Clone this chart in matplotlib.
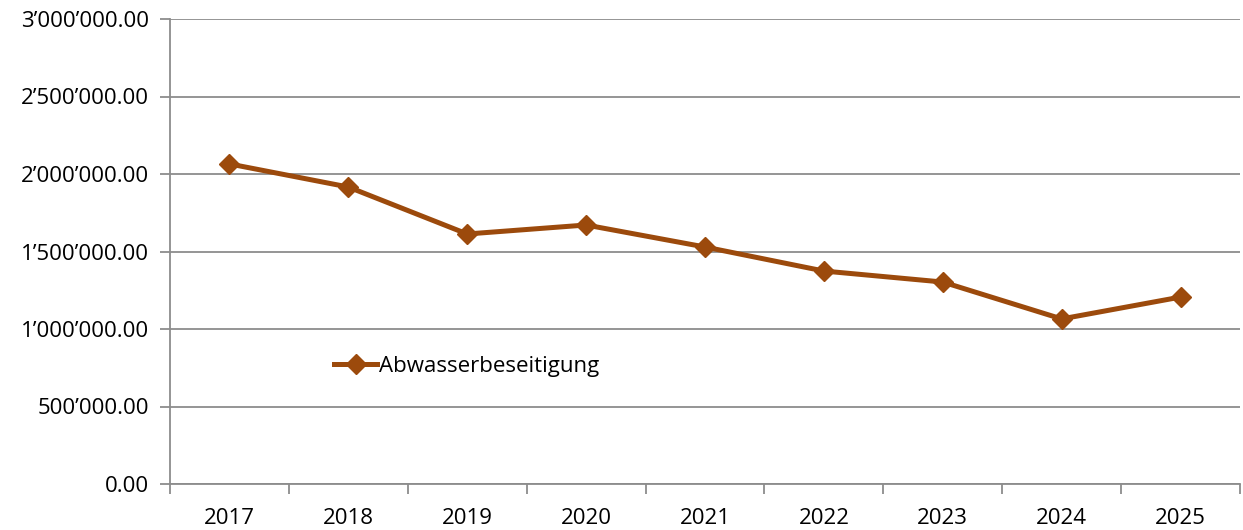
import matplotlib
matplotlib.use("Agg")
import matplotlib.pyplot as plt
from matplotlib.ticker import FuncFormatter, FixedLocator

years = ["2017", "2018", "2019", "2020", "2021", "2022", "2023", "2024", "2025"]
values = [2065000, 1916000, 1613000, 1671000, 1529000, 1374000, 1303000, 1065000, 1206000]
series_name = "Abwasserbeseitigung"

plt.rcParams['font.family'] = ['Open Sans', 'DejaVu Sans']

color = "#9C4A0C"
grid_color = "#8C8C8C"

fig = plt.figure(figsize=(12.43, 5.30), dpi=100)
ax = fig.add_axes([170 / 1243, 46 / 530, 1070 / 1243, 465 / 530])

x = list(range(len(years)))
ax.plot(x, values, color=color, lw=3.6, marker="D", markersize=10,
        label=series_name, zorder=3)

ax.set_xlim(-0.5, len(years) - 0.5)
ax.set_ylim(0, 3000000)
ax.set_yticks(range(0, 3000001, 500000))
ax.yaxis.set_major_formatter(FuncFormatter(lambda v, p: f"{v:,.2f}".replace(",", "\u2019")))
ax.grid(axis="y", color=grid_color, lw=1.3, zorder=0)

# category labels centered, ticks at boundaries
ax.set_xticks(x)
ax.set_xticklabels(years)
ax.xaxis.set_minor_locator(FixedLocator([i - 0.5 for i in range(len(years) + 1)]))
ax.tick_params(axis="x", which="major", length=0, pad=17, labelsize=16)
ax.tick_params(axis="x", which="minor", length=7, width=1.3, color=grid_color)
ax.tick_params(axis="y", length=7, width=1.3, color=grid_color, labelsize=16, pad=8)

for side in ["top", "right"]:
    ax.spines[side].set_visible(False)
for side in ["left", "bottom"]:
    ax.spines[side].set_color(grid_color)
    ax.spines[side].set_linewidth(1.3)

ax.legend(loc="upper left", bbox_to_anchor=(0.135, 0.318), frameon=False,
          fontsize=16, handlelength=1.9, handletextpad=0.1)

fig.savefig("out.png", dpi=100)
